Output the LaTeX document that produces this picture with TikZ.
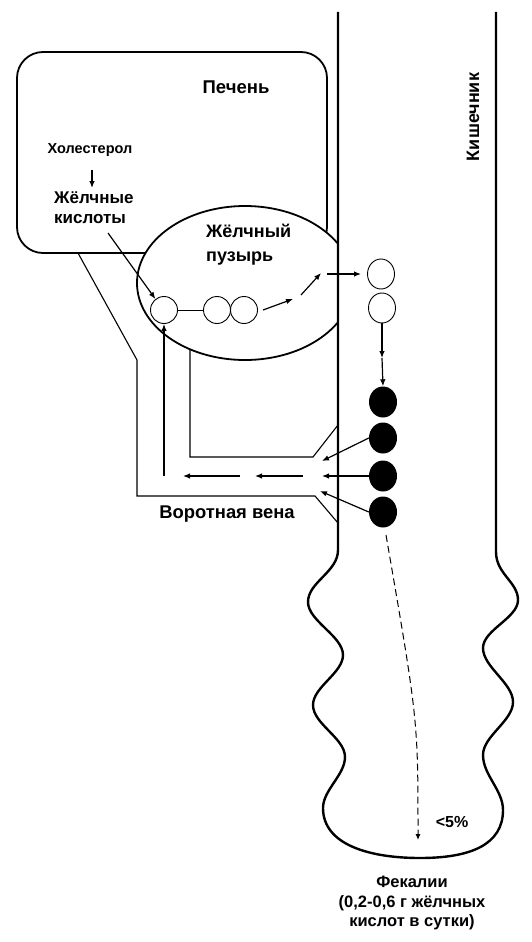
\documentclass[tikz,border=0pt]{standalone}
\usepackage{fontspec}
\setmainfont{Liberation Sans}
\usetikzlibrary{arrows.meta,shapes.geometric}
\begin{document}
\begin{tikzpicture}[x=1pt,y=-1pt,
  arr/.style={-{Latex[length=7pt,width=5.5pt]}, line width=1.2pt},
  vein/.style={line width=1.1pt},
  wall/.style={line width=2.4pt, line join=round},
  organ/.style={line width=1.8pt},
  wc/.style={circle, draw, line width=0.9pt, minimum size=27pt, inner sep=0pt},
  wi/.style={ellipse, draw, line width=0.9pt, minimum width=27pt, minimum height=30pt, inner sep=0pt},
  bc/.style={ellipse, fill=black, minimum width=28pt, minimum height=31pt, inner sep=0pt},
  txt/.style={inner sep=0pt}]
\fill[white] (0,0) rectangle (531,942);
\useasboundingbox (0,0) rectangle (531,942);
% liver
\node[draw, organ, rounded corners=26pt, minimum width=310pt, minimum height=201pt] (liver) at (172,152.5) {};
% portal vein
\draw[vein] (78,253) -- (137,360) -- (137,496) -- (315,496) -- (338,523);
\draw[vein] (190,340) -- (190,457) -- (313,457) -- (338,425);
% gallbladder
\begin{scope}
\clip (0,0) rectangle (338,942);
\node[ellipse, draw, fill=white, organ, minimum width=216pt, minimum height=154pt] (gb) at (245,283) {};
\end{scope}
% intestine walls
\draw[wall] (338,12) -- (338,550)
  .. controls (338,572) and (308,582) .. (308,602)
  .. controls (308,621) and (343,636) .. (343,655)
  .. controls (343,673) and (313,687) .. (313,705)
  .. controls (313,724) and (345,738) .. (345,757)
  .. controls (345,775) and (323,790) .. (323,808)
  .. controls (323,845) and (370,858) .. (420,858)
  .. controls (470,858) and (503,845) .. (503,810)
  .. controls (503,790) and (483,775) .. (483,755)
  .. controls (483,736) and (513,721) .. (513,702)
  .. controls (513,683) and (483,667) .. (483,648)
  .. controls (483,630) and (518,618) .. (518,600)
  .. controls (518,582) and (496,574) .. (496,552)
  -- (496,12);
% texts
\node[txt, font=\fontsize{18.5}{22}\selectfont\bfseries] (liverlbl) at (236,87) {Печень};
\node[txt, font=\fontsize{14.5}{17}\selectfont\bfseries] (chol) at (90,150) {Холестерол};
\node[txt, font=\fontsize{17}{20}\selectfont\bfseries, align=left, anchor=west] (ba) at (54,208) {Жёлчные\\кислоты};
\node[txt, font=\fontsize{18}{24}\selectfont\bfseries, align=left, anchor=west] (gbl) at (206,245) {Жёлчный\\пузырь};
\node[txt, font=\fontsize{18.4}{22}\selectfont\bfseries] (pv) at (227,514) {Воротная вена};
\node[txt, font=\fontsize{18}{22}\selectfont\bfseries, rotate=90] (int) at (473,117) {Кишечник};
\node[txt, font=\fontsize{16}{19}\selectfont\bfseries] (pct) at (452,822) {<5\%};
\node[txt, font=\fontsize{16.5}{19.5}\selectfont\bfseries, align=center] (fec) at (412,903) {Фекалии\\(0,2-0,6 г жёлчных\\кислот в сутки)};
% circles
\node[wc] (c1) at (164,310) {};
\node[wc] (c2) at (217,310) {};
\node[wc] (c3) at (244,310) {};
\draw[line width=0.9pt] (c1) -- (c2);
\node[wi] (i1) at (381,274) {};
\node[wi] (i2) at (382,308) {};
\node[bc] (b1) at (383,402) {};
\node[bc] (b2) at (383,438) {};
\node[bc] (b3) at (383,476) {};
\node[bc] (b4) at (383,512) {};
% arrows
\coordinate (k1) at (92,170); \coordinate (k2) at (92,188);
\draw[arr] (k1) -- (k2);
\coordinate (a0) at (108,233);
\draw[arr] (a0) -- (c1.128);
\coordinate (g1) at (263,310); \coordinate (g2) at (293,299);
\coordinate (g3) at (301,295); \coordinate (g4) at (321,273);
\coordinate (g5) at (327,274); \coordinate (g6) at (361,274);
\draw[arr] (g1) -- (g2);
\draw[arr] (g3) -- (g4);
\draw[arr] (g5) -- (g6);
\coordinate (m1) at (382,358);
\draw[arr] (i2.south) -- (m1);
\draw[arr] (m1) -- (b1.north);
\coordinate (p2) at (322,461); \coordinate (p3) at (322,476); \coordinate (p4) at (320,491);
\draw[arr] (b2.west) -- (p2);
\draw[arr] (b3.west) -- (p3);
\draw[arr] (b4.west) -- (p4);
\coordinate (h1s) at (240,476); \coordinate (h1e) at (183,476);
\coordinate (h2s) at (303,476); \coordinate (h2e) at (255,476);
\draw[arr] (h1s) -- (h1e);
\draw[arr] (h2s) -- (h2e);
\coordinate (u0) at (164,476);
\draw[arr] (u0) -- (c1.south);
\coordinate (d0) at (386,535); \coordinate (d1) at (418,840);
\draw[-{Latex[length=6pt,width=5pt]}, line width=1pt, dash pattern=on 7pt off 4pt] (d0) .. controls (418,720) .. (d1);
\end{tikzpicture}
\end{document}
